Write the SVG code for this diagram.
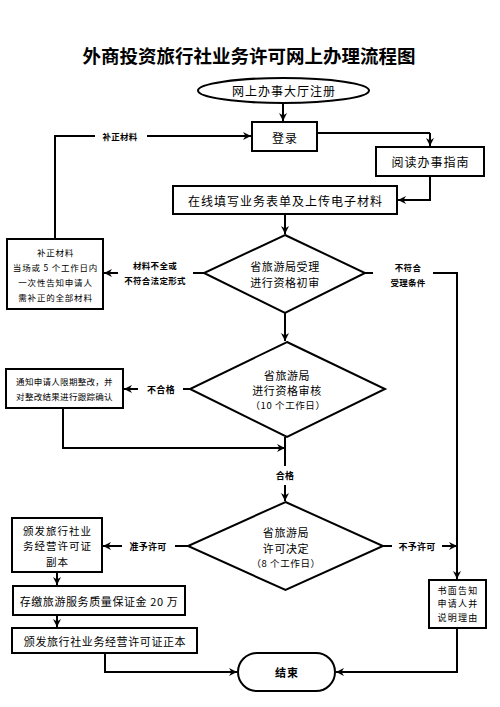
<svg xmlns="http://www.w3.org/2000/svg" width="500" height="707" viewBox="0 0 500 707">
<defs>
<marker id="ah" markerWidth="10" markerHeight="10" refX="8" refY="4" orient="auto" markerUnits="userSpaceOnUse">
<path d="M0,0 L8,4 L0,8 L2.5,4 Z" fill="#000"/>
</marker>
<style>
.s{fill:#fff;stroke:#000;stroke-width:2}
.c{fill:none;stroke:#000;stroke-width:2}
.a{fill:none;stroke:#000;stroke-width:2;marker-end:url(#ah)}
text{font-family:"Noto Sans CJK SC","Noto Sans CJK JP",sans-serif;fill:#000;text-anchor:middle;dominant-baseline:central}
.t{font-size:12px;letter-spacing:1px}
.m{font-size:11px;letter-spacing:0.6px}
.l{font-size:8.5px;font-weight:bold;letter-spacing:0.3px}
.b{font-size:8.5px;letter-spacing:0.8px}
</style>
</defs>
<rect width="500" height="707" fill="#fff"/>
<text x="249" y="55" style="font-size:18.5px;font-weight:bold">外商投资旅行社业务许可网上办理流程图</text>

<g id="connectors">
<path class="a" d="M283,103 L283,121"/>
<path class="c" d="M317,133 L430,133"/>
<path class="a" d="M430,133 L430,146"/>
<path class="a" d="M430,176 L430,200 L398,200"/>
<path class="a" d="M285,214 L285,234"/>
<path class="c" d="M204,273 L193,273"/>
<path class="a" d="M118,273 L104,273"/>
<path class="c" d="M55,239 L55,136 L95,136"/>
<path class="a" d="M147,136 L251,136"/>
<path class="c" d="M365,273 L373,273"/>
<path class="c" d="M433,273 L457,273 L457,560"/>
<path class="a" d="M457,540 L457,579"/>
<path class="a" d="M285,313 L285,341"/>
<path class="c" d="M190,389 L183,389"/>
<path class="a" d="M138,389 L124,389"/>
<path class="a" d="M63,408 L63,448 L285,448"/>
<path class="c" d="M285,437 L285,466"/>
<path class="a" d="M285,485 L285,501"/>
<path class="c" d="M188,546 L175,546"/>
<path class="a" d="M122,546 L103,546"/>
<path class="c" d="M383,546 L392,546"/>
<path class="a" d="M442,546 L457,546"/>
<path class="a" d="M57,572 L57,585"/>
<path class="a" d="M57,615 L57,627"/>
<path class="a" d="M105,653 L105,672 L237,672"/>
<path class="a" d="M457,628 L457,672 L336,672"/>
<text class="l" x="120" y="136">补正材料</text>
<text class="l" x="155" y="265">材料不全或</text>
<text class="l" x="155" y="280">不符合法定形式</text>
<text class="l" x="408" y="267">不符合</text>
<text class="l" x="408" y="282">受理条件</text>
<text class="l" x="161" y="389" style="font-size:9px">不合格</text>
<text class="l" x="285" y="475" style="font-size:9px">合格</text>
<text class="l" x="148" y="546" style="font-size:9px">准予许可</text>
<text class="l" x="417" y="546" style="font-size:9px">不予许可</text>
</g>

<g id="register">
<ellipse class="s" cx="283.5" cy="90.5" rx="85.5" ry="12.5"/>
<text class="t" x="284" y="90.5">网上办事大厅注册</text>
</g>
<g id="login">
<rect class="s" x="252" y="122" width="65" height="29"/>
<text class="t" x="285" y="137">登录</text>
</g>
<g id="guide">
<rect class="s" x="376" y="147" width="108" height="29"/>
<text class="t" x="430.5" y="161.5">阅读办事指南</text>
</g>
<g id="fill">
<rect class="s" x="173" y="186" width="224" height="28"/>
<text class="t" x="285.5" y="200">在线填写业务表单及上传电子材料</text>
</g>
<g id="review1">
<polygon class="s" points="285,235 365,273 285,313 204,273"/>
<text class="m" x="285" y="266">省旅游局受理</text>
<text class="m" x="285" y="282">进行资格初审</text>
</g>
<g id="supplement">
<rect class="s" x="7" y="239" width="96" height="70"/>
<text class="b" x="55.5" y="252">补正材料</text>
<text class="b" x="55.5" y="267">当场或 5 个工作日内</text>
<text class="b" x="55.5" y="282">一次性告知申请人</text>
<text class="b" x="55.5" y="297">需补正的全部材料</text>
</g>
<g id="review2">
<polygon class="s" points="287,342 385,389 287,437 190,389"/>
<text class="m" x="287" y="375">省旅游局</text>
<text class="m" x="287" y="390">进行资格审核</text>
<text class="m" x="288" y="405" style="font-size:9.5px">（10 个工作日）</text>
</g>
<g id="rectify">
<rect class="s" x="6" y="369" width="117" height="39"/>
<text class="b" x="64.5" y="381" style="letter-spacing:0.3px">通知申请人限期整改，并</text>
<text class="b" x="64.5" y="396" style="letter-spacing:0.3px">对整改结果进行跟踪确认</text>
</g>
<g id="decision">
<polygon class="s" points="285.5,502 383,546 285.5,590 188,546"/>
<text class="m" x="286" y="532">省旅游局</text>
<text class="m" x="286" y="548">许可决定</text>
<text class="m" x="286" y="563" style="font-size:9.5px">（8 个工作日）</text>
</g>
<g id="copy">
<rect class="s" x="12" y="518" width="90" height="54"/>
<text class="m" x="57.5" y="530" style="font-size:10.5px;letter-spacing:1px">颁发旅行社业</text>
<text class="m" x="57.5" y="545.5" style="font-size:10.5px;letter-spacing:1px">务经营许可证</text>
<text class="m" x="57.5" y="561" style="font-size:10.5px;letter-spacing:1px">副本</text>
</g>
<g id="deposit">
<rect class="s" x="13" y="586" width="172" height="29"/>
<text class="m" x="99" y="601">存缴旅游服务质量保证金 20 万</text>
</g>
<g id="original">
<rect class="s" x="12" y="628" width="185" height="25"/>
<text class="m" x="105" y="641">颁发旅行社业务经营许可证正本</text>
</g>
<g id="notify">
<rect class="s" x="429" y="580" width="57" height="48"/>
<text class="b" x="458" y="590" style="font-size:9px;letter-spacing:1.3px">书面告知</text>
<text class="b" x="458" y="603.5" style="font-size:9px;letter-spacing:1.3px">申请人并</text>
<text class="b" x="458" y="617" style="font-size:9px;letter-spacing:1.3px">说明理由</text>
</g>
<g id="end">
<rect class="s" x="238" y="653" width="97" height="38" rx="19" ry="19"/>
<text x="287" y="672" style="font-size:11px;font-weight:bold;letter-spacing:1px">结束</text>
</g>
</svg>
